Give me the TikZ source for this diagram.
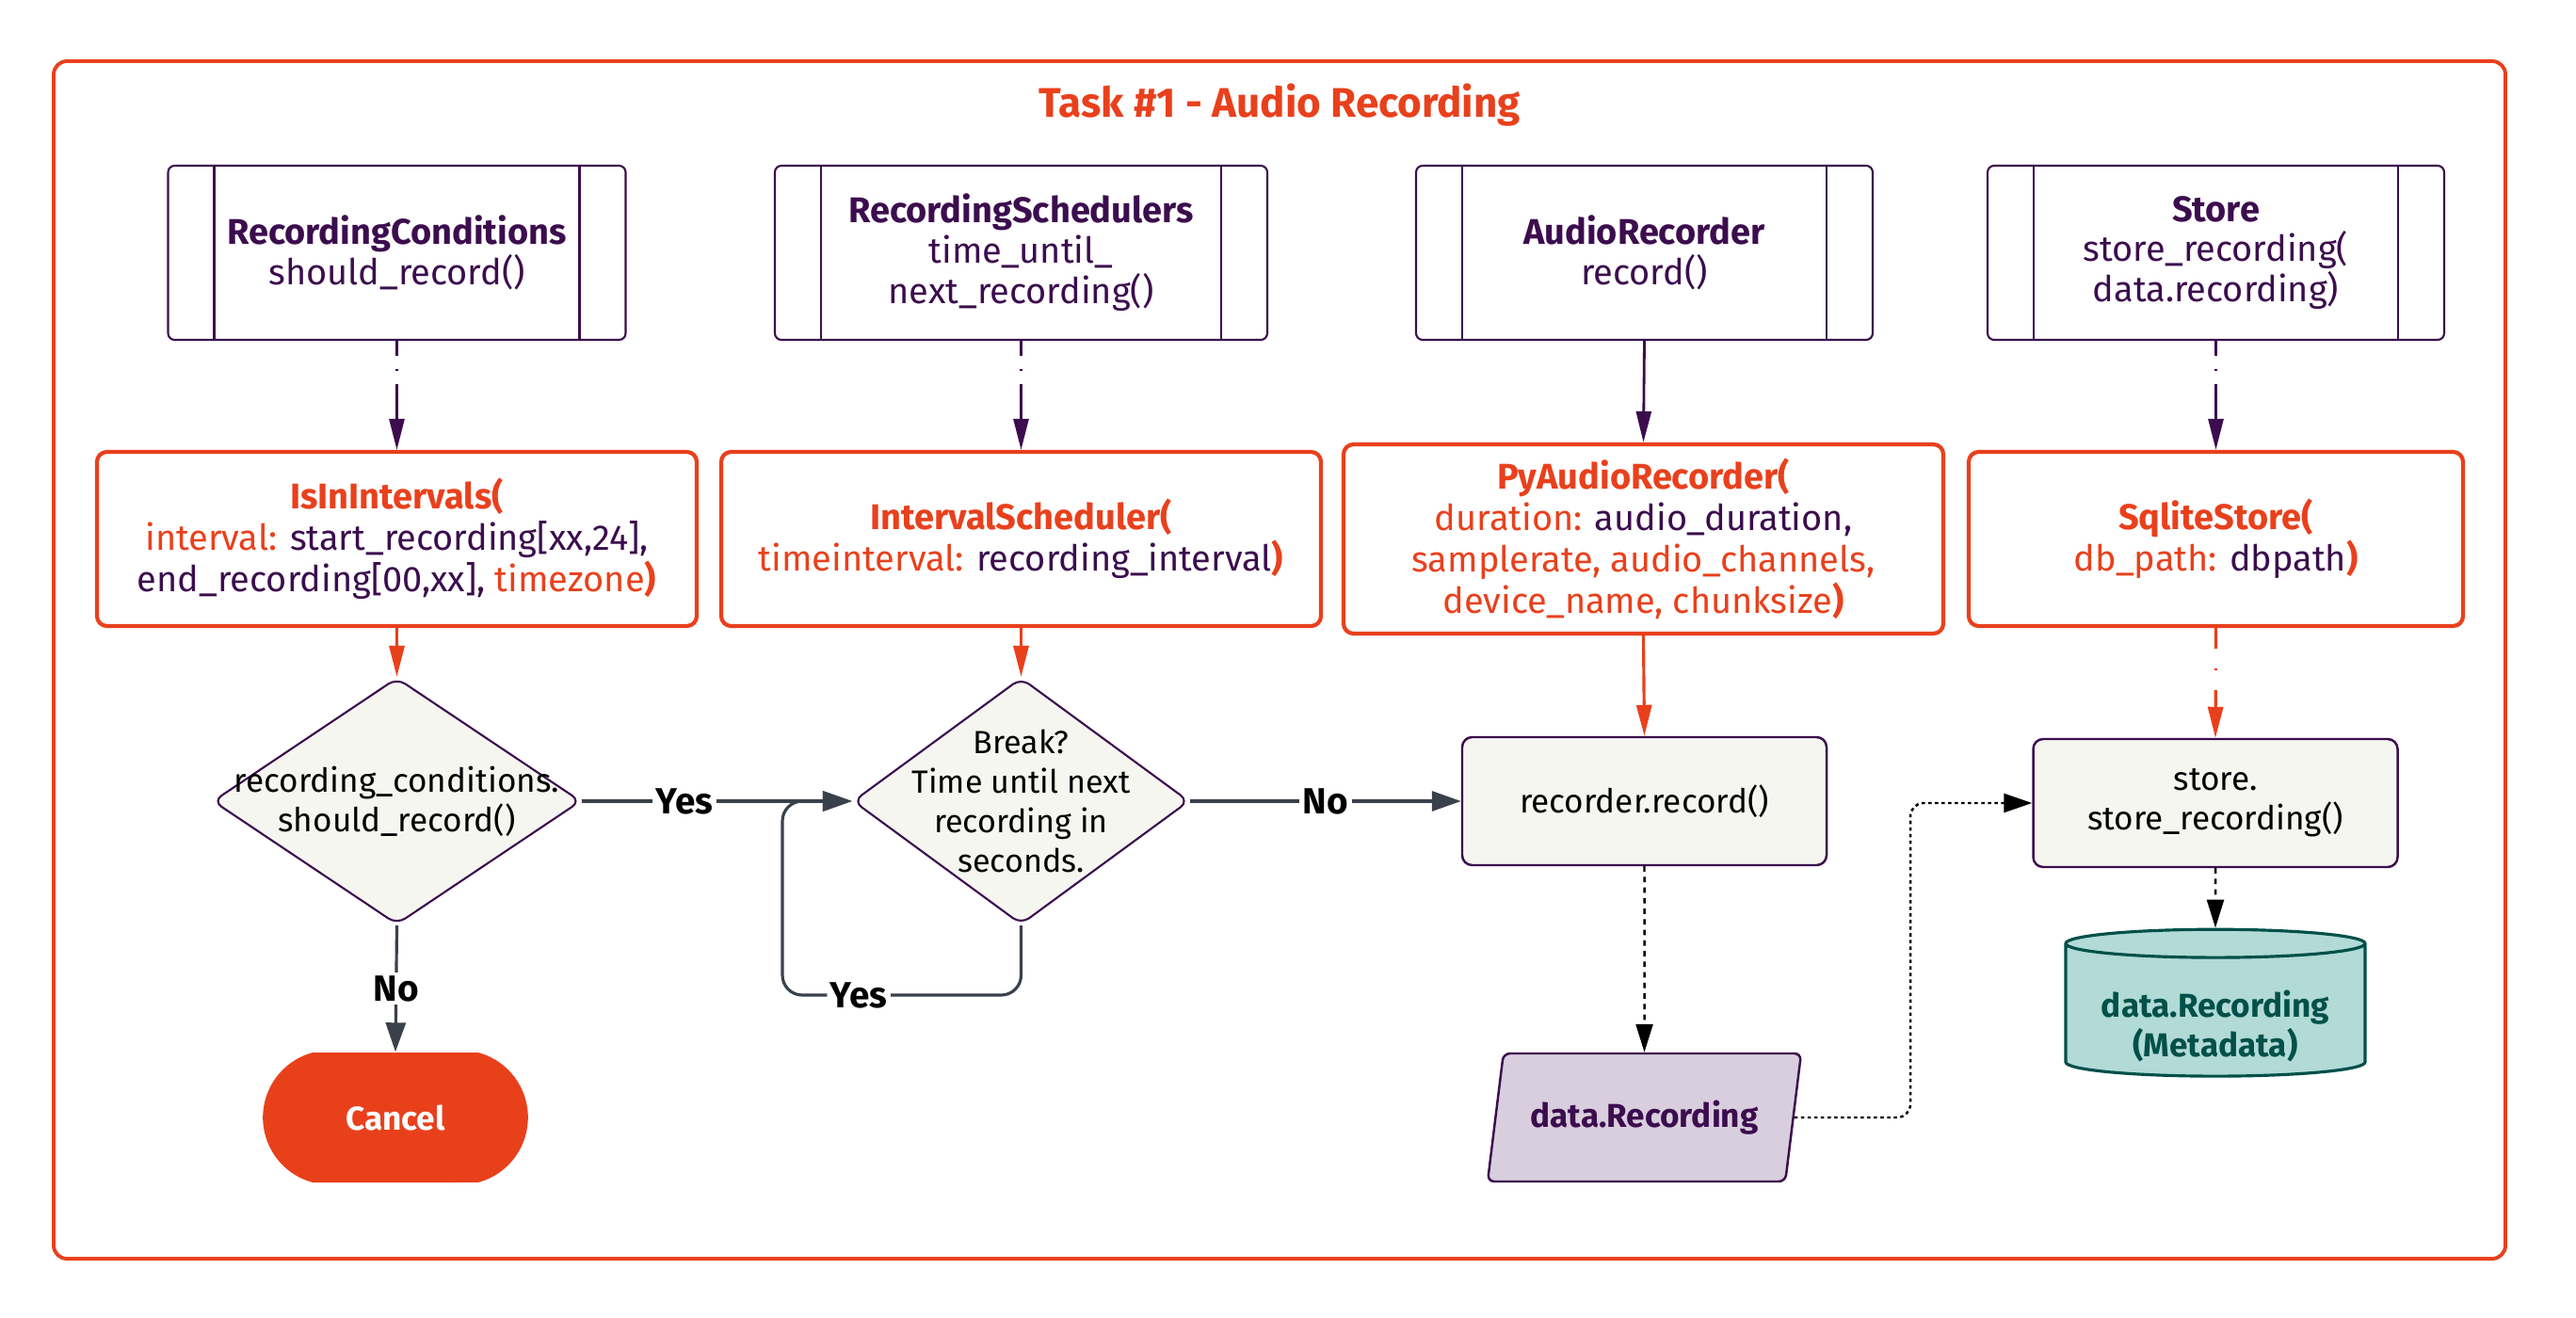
\documentclass[tikz,border=0pt]{standalone}
\usepackage{fontspec}
\setmainfont{Fira Sans}
\usetikzlibrary{arrows.meta, shapes.geometric, shapes.misc}

\definecolor{ubOrange}{HTML}{E9401C}
\definecolor{ubPurple}{HTML}{3C0D4E}
\definecolor{boxFill}{HTML}{F6F6F1}
\definecolor{lineGrey}{HTML}{3A414B}
\definecolor{dataFill}{HTML}{D8CEDD}
\definecolor{cylFill}{HTML}{B2DAD6}
\definecolor{cylText}{HTML}{00504A}

\newcommand{\argname}[1]{\textcolor{ubOrange}{#1}}
\newcommand{\implname}[1]{\textcolor{ubOrange}{\textbf{#1}}}

\begin{document}
\begin{tikzpicture}[
	ifacebox/.style = {draw = ubPurple, line width = 0.6pt, rounded corners = 2pt,
		minimum height = 1.85cm, align = center, text = ubPurple,
		font = \fontsize{10.8}{12.2}\selectfont,
		path picture = {
			\draw [ubPurple, line width = 0.6pt]
				([xshift = 0.49cm] path picture bounding box.north west) --
				([xshift = 0.49cm] path picture bounding box.south west);
			\draw [ubPurple, line width = 0.6pt]
				([xshift = -0.49cm] path picture bounding box.north east) --
				([xshift = -0.49cm] path picture bounding box.south east);
		}},
	implbox/.style = {draw = ubOrange, line width = 1.2pt, rounded corners = 3pt,
		fill = white, minimum height = 1.85cm, align = center, text = ubPurple,
		font = \fontsize{10.8}{12.5}\selectfont},
	decision/.style = {diamond, draw = ubPurple, fill = boxFill, line width = 0.6pt,
		rounded corners = 3pt, aspect = 1.5, inner sep = -0.35cm,
		minimum height = 2.62cm, align = center},
	opbox/.style = {draw = ubPurple, fill = boxFill, line width = 0.7pt,
		rounded corners = 3pt, minimum width = 3.87cm, minimum height = 1.36cm, align = center},
	endbox/.style = {rounded rectangle, rounded rectangle arc length = 150,
		fill = ubOrange, text = white, font = \bfseries,
		minimum width = 3.05cm, minimum height = 1.38cm},
	databox/.style = {trapezium, trapezium left angle = 76, trapezium right angle = 104,
		trapezium stretches = true, draw = ubPurple, fill = dataFill, line width = 0.7pt,
		rounded corners = 2pt, minimum width = 3.33cm, minimum height = 1.36cm,
		text = ubPurple, font = \bfseries},
	dbstore/.style = {cylinder, shape border rotate = 90, aspect = 0.12,
		draw = cylText, fill = cylFill, line width = 0.9pt, inner sep = 1pt,
		minimum width = 3.18cm, minimum height = 1.47cm, text height = 1.0cm,
		text = cylText, font = \bfseries, align = center},
	answer/.style = {fill = white, inner sep = 1pt, font = \bfseries\fontsize{11}{13}\selectfont},
	ifarrow/.style = {draw = ubPurple, line width = 0.8pt, -{Triangle[length = 3.3mm, width = 1.6mm]}},
	implarrow/.style = {draw = ubOrange, line width = 0.9pt, -{Triangle[length = 3.3mm, width = 1.6mm]}},
	linkdash/.style = {dash pattern = on 0.16cm off 0.14cm on 0.02cm off 0.14cm on 6cm off 0cm},
	flowarrow/.style = {draw = lineGrey, line width = 0.9pt, -{Triangle[length = 3.1mm, width = 2.1mm]}},
	dataarrow/.style = {draw = black, line width = 0.7pt, dash pattern = on 1.6pt off 1.6pt,
		-{Triangle[length = 3mm, width = 1.8mm]}},
	dotarrow/.style = {draw = black, line width = 0.7pt, dash pattern = on 1pt off 1pt,
		-{Triangle[length = 3mm, width = 2mm]}}
]

\useasboundingbox (0, 0) rectangle (27.36, 13.99);

% Task frame

\draw [ubOrange, line width = 1.1pt, rounded corners = 4pt] (0.57, 0.62) rectangle (26.61, 13.34);
\node [text = ubOrange, font = \bfseries\fontsize{12.5}{15}\selectfont] (title) at (13.59, 12.87) {Task \#1 - Audio Recording};

% Interfaces

\node [ifacebox, minimum width = 4.86cm] (conditions) at (4.215, 11.305) {\textbf{RecordingConditions}\\should\_record()};
\node [ifacebox, minimum width = 5.23cm] (schedulers) at (10.845, 11.305) {\textbf{RecordingSchedulers}\\time\_until\_\\next\_recording()};
\node [ifacebox, minimum width = 4.85cm] (recorder) at (17.465, 11.305) {\textbf{AudioRecorder}\\record()};
\node [ifacebox, minimum width = 4.85cm] (store) at (23.535, 11.305) {\textbf{Store}\\store\_recording(\\data.recording)};

% Implementations

\node [implbox, minimum width = 6.37cm] (intervals) at (4.215, 8.265)
	{\implname{IsInIntervals(}\\\argname{interval:} start\_recording[xx,24],\\end\_recording[00,xx], \argname{timezone}\implname{)}};
\node [implbox, minimum width = 6.37cm] (scheduler) at (10.845, 8.265)
	{\implname{IntervalScheduler(}\\\argname{timeinterval:} recording\_interval\implname{)}};
\node [implbox, minimum width = 6.37cm, minimum height = 2.01cm] (pyaudio) at (17.455, 8.265)
	{\implname{PyAudioRecorder(}\\\argname{duration:} audio\_duration,\\\argname{samplerate, audio\_channels,}\\\argname{device\_name, chunksize}\implname{)}};
\node [implbox, minimum width = 5.25cm] (sqlite) at (23.535, 8.265)
	{\implname{SqliteStore(}\\\argname{db\_path:} dbpath\implname{)}};

% Flow

\node [decision, minimum width = 3.91cm] (shouldrec) at (4.215, 5.48) {recording\_conditions.\\should\_record()};
\node [decision, minimum width = 3.57cm, font = \fontsize{9.7}{12}\selectfont] (waitbreak) at (10.845, 5.48) {Break?\\Time until next\\recording in\\seconds.};
\node [opbox] (record) at (17.465, 5.48) {recorder.record()};
\node [opbox] (storeop) at (23.53, 5.46) {store.\\store\_recording()};

\node [endbox] (cancel) at (4.20, 2.12) {Cancel};
\node [databox] (data) at (17.465, 2.12) {data.Recording};
\node [dbstore] (metadata) at (23.53, 3.24) {data.Recording\\(Metadata)};

\coordinate (loopturn) at (8.31, 3.42);
\coordinate (databend) at (20.29, 5.46);

% Connectors

\draw [ifarrow, linkdash] (conditions.south) -- (intervals.north);
\draw [ifarrow, linkdash] (schedulers.south) -- (scheduler.north);
\draw [ifarrow] (recorder.south) -- (pyaudio.north);
\draw [ifarrow, linkdash] (store.south) -- (sqlite.north);

\draw [implarrow] (intervals.south) -- (shouldrec.north);
\draw [implarrow] (scheduler.south) -- (waitbreak.north);
\draw [implarrow] (pyaudio.south) -- (record.north);
\draw [implarrow, dash pattern = on 0.22cm off 0.21cm on 0.02cm off 0.21cm on 6cm off 0cm] (sqlite.south) -- (storeop.north);

\draw [flowarrow] (shouldrec.east) -- node [answer, pos = 0.38] {Yes} (waitbreak.west);
\draw [flowarrow] (shouldrec.south) -- node [answer] {No} (cancel.north);
\draw [flowarrow, rounded corners = 6pt] (waitbreak.south) |- node [answer, pos = 0.84] {Yes} (loopturn) |- (waitbreak.west);
\draw [flowarrow] (waitbreak.east) -- node [answer] {No} (record.west);

\draw [dataarrow] (record.south) -- (data.north);
\draw [dotarrow, rounded corners = 4pt] (data.east) -| (databend) -- (storeop.west);
\draw [dataarrow] (storeop.south) -- (metadata.north);

\end{tikzpicture}
\end{document}
